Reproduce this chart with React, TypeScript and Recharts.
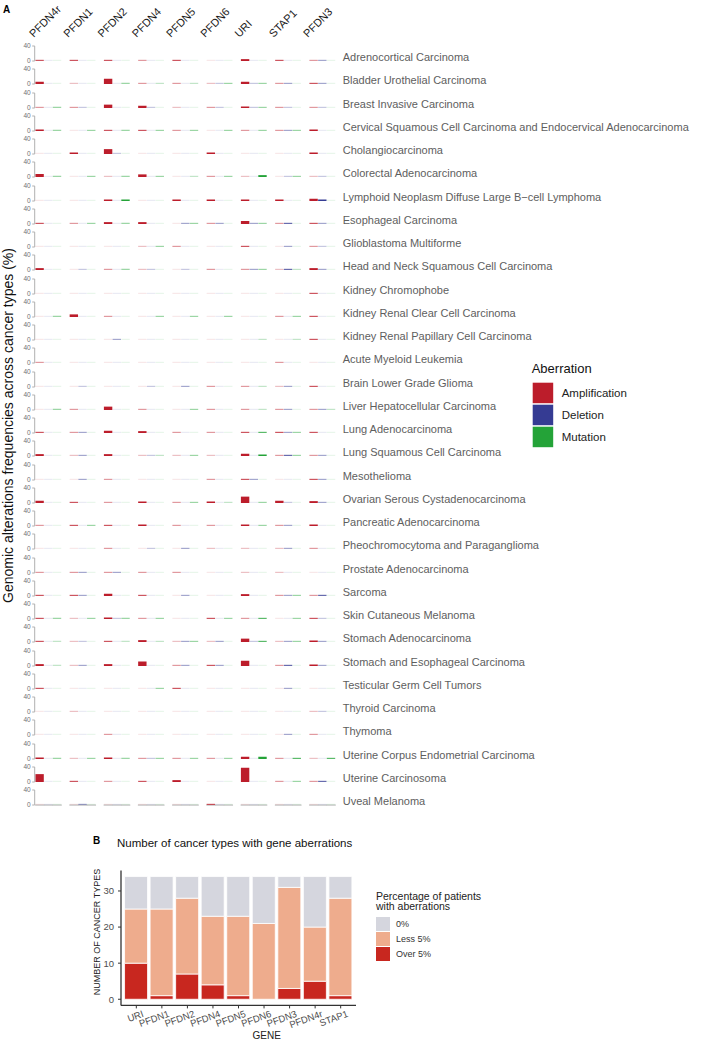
import { Bar, BarChart, Cell, Legend, XAxis, YAxis } from "recharts";

const GENES_A = ["PFDN4r", "PFDN1", "PFDN2", "PFDN4", "PFDN5", "PFDN6", "URI", "STAP1", "PFDN3"];

const CANCERS = [
  "Adrenocortical Carcinoma",
  "Bladder Urothelial Carcinoma",
  "Breast Invasive Carcinoma",
  "Cervical Squamous Cell Carcinoma and Endocervical Adenocarcinoma",
  "Cholangiocarcinoma",
  "Colorectal Adenocarcinoma",
  "Lymphoid Neoplasm Diffuse Large B−cell Lymphoma",
  "Esophageal Carcinoma",
  "Glioblastoma Multiforme",
  "Head and Neck Squamous Cell Carcinoma",
  "Kidney Chromophobe",
  "Kidney Renal Clear Cell Carcinoma",
  "Kidney Renal Papillary Cell Carcinoma",
  "Acute Myeloid Leukemia",
  "Brain Lower Grade Glioma",
  "Liver Hepatocellular Carcinoma",
  "Lung Adenocarcinoma",
  "Lung Squamous Cell Carcinoma",
  "Mesothelioma",
  "Ovarian Serous Cystadenocarcinoma",
  "Pancreatic Adenocarcinoma",
  "Pheochromocytoma and Paraganglioma",
  "Prostate Adenocarcinoma",
  "Sarcoma",
  "Skin Cutaneous Melanoma",
  "Stomach Adenocarcinoma",
  "Stomach and Esophageal Carcinoma",
  "Testicular Germ Cell Tumors",
  "Thyroid Carcinoma",
  "Thymoma",
  "Uterine Corpus Endometrial Carcinoma",
  "Uterine Carcinosoma",
  "Uveal Melanoma",
];

// % of patients, one row per cancer type, columns follow GENES_A
const AMP = [
  [3, 3, 2.5, 2, 2.5, 0, 5, 2.5, 2],
  [6, 1, 14, 2, 2, 1, 6, 2, 3],
  [2, 1.5, 9, 6, 1, 2, 4, 2, 2],
  [4, 0, 3, 2.5, 1.5, 0, 2, 2, 4],
  [0, 4, 13, 0, 0, 4, 0, 0, 4],
  [8, 0, 1, 7, 0, 1.5, 1, 0, 1],
  [0, 0, 4, 0, 4, 4, 4, 4, 6],
  [3, 2, 5, 5, 0, 2, 8, 2, 3],
  [0, 0, 0, 1, 2, 0, 3, 0, 2],
  [5, 0, 1.5, 1, 0, 1.5, 1.5, 1, 5],
  [0, 0, 0, 0, 0, 0, 0, 0, 3],
  [0, 7, 2, 0, 0, 0, 0, 2, 3],
  [0, 0, 0, 0, 0, 0, 0, 0, 3],
  [1.5, 0, 0, 0, 0, 0, 0, 1.5, 0],
  [0, 0, 0, 0, 0, 1.5, 1.5, 1, 2.5],
  [0, 2, 9, 2, 0, 2, 2, 2, 2],
  [3, 1.5, 6, 5, 2, 2, 3, 2.5, 3],
  [5, 1, 5, 1, 1, 1, 6, 2, 2],
  [0, 0, 2, 0, 0, 2, 3, 0, 3],
  [6, 3, 2, 4, 2, 4, 17, 6, 5],
  [1.5, 3, 3, 4, 1.5, 1.5, 4, 1.5, 4],
  [0, 0, 1.5, 0, 0, 1, 1, 1, 2],
  [1.5, 1.5, 1.5, 1.5, 2, 0, 1, 1, 0],
  [2.5, 3, 6, 2.5, 0, 0, 5, 2, 2],
  [3, 1, 4, 2, 0, 3, 2, 0, 3],
  [3, 1, 3, 5, 1, 1, 9, 1, 4],
  [5, 1, 5, 12, 2, 3, 14, 2, 4],
  [3, 0, 0, 0, 3, 0, 0, 0, 0],
  [0, 1, 0, 0, 0, 0, 0, 0, 1],
  [0, 0, 2, 0, 0, 0, 0, 0, 1.5],
  [4, 1, 4, 2, 2, 1.5, 6, 2, 1],
  [21, 3, 2, 3, 5, 0, 38, 2, 2],
  [0, 0, 0, 0, 0, 3, 0, 0, 0],
];

const DEL = [
  [0, 0, 0, 0, 0, 0, 0, 0, 2],
  [0, 0, 0, 0, 0, 1, 1, 2, 2],
  [0, 1, 0, 1, 0, 1, 1, 1, 1],
  [0, 0, 0, 0, 0, 0, 0, 2, 0],
  [0, 0, 1, 0, 0, 0, 0, 0, 0],
  [0, 0, 0, 0, 0, 0, 0, 1, 1],
  [0, 0, 0, 0, 0, 0, 0, 0, 4],
  [0, 0, 0, 0, 2, 2, 2, 3, 2],
  [0, 0, 0, 0, 0, 0, 0, 1.5, 1],
  [0, 1, 0, 1, 1, 0, 1.5, 3, 1.5],
  [0, 0, 0, 0, 0, 0, 0, 0, 0],
  [0, 0, 0, 0, 0, 0, 0, 0, 0],
  [0, 0, 1.5, 0, 0, 0, 0, 0, 0],
  [0, 0, 0, 0, 0, 0, 0, 0, 0],
  [0, 1, 0, 1, 1.5, 0, 0, 1.5, 0],
  [0, 0, 0, 0, 0, 0, 0, 2, 2],
  [0, 1.5, 0, 0, 0, 0, 0, 1.5, 0],
  [0, 1.5, 0, 1, 0, 0, 0, 2.5, 1.5],
  [0, 2, 0, 0, 0, 0, 2, 0, 2],
  [0, 0, 0, 0, 0, 0, 0, 1, 2],
  [0, 0, 0, 0, 0, 0, 0, 1.5, 0],
  [0, 0, 0, 1, 1.5, 0, 0, 1.5, 0],
  [0, 1.5, 2, 0, 0, 0, 0, 0, 0],
  [0, 1.5, 0, 0, 1.5, 0, 0, 1.5, 3],
  [0, 0, 1, 0, 0, 0, 0, 0, 1],
  [0, 1, 0, 0, 1.5, 2, 1, 2, 2],
  [0, 1.5, 0, 0, 2, 1.5, 0, 2.5, 2],
  [0, 0, 0, 0, 0, 0, 0, 2, 0],
  [0, 0, 0, 0, 0, 0, 0, 0, 1],
  [0, 0, 0, 0, 0, 0, 0, 1.5, 0],
  [0, 0, 0, 1, 0, 0, 0, 0, 0],
  [0, 0, 0, 0, 0, 0, 0, 0, 2.5],
  [0, 2, 0, 0, 0, 0, 0, 0, 0],
];

const MUT = [
  [0, 0, 0, 0, 0, 0, 0, 0, 0],
  [0, 0, 1.5, 1, 1, 1.5, 1.5, 0, 0],
  [1.5, 0, 0, 0, 0, 0, 1.5, 0, 0],
  [1.5, 2, 2, 2, 2, 2, 2, 1.5, 0],
  [0, 0, 0, 0, 0, 0, 0, 0, 0],
  [1.5, 1.5, 1.5, 1.5, 1, 1.5, 5, 1.5, 0],
  [0, 0, 4, 0, 0, 0, 0, 0, 0],
  [0, 2, 2, 0, 2, 0, 2, 0, 0],
  [0, 0, 0, 1.5, 0, 0, 0, 0, 0],
  [0, 0, 1.5, 0, 0, 0, 1.5, 1, 0],
  [0, 0, 0, 0, 0, 0, 0, 0, 0],
  [1.5, 0, 0, 1.5, 1.5, 1.5, 0, 1.5, 0],
  [0, 0, 0, 0, 0, 0, 1, 1, 0],
  [0, 0, 0, 0, 0, 0, 0, 0, 0],
  [0, 0, 0, 0, 0, 0, 1, 0, 0],
  [2, 0, 0, 0, 2, 0, 1, 0, 1],
  [0, 0, 0, 0, 0, 0, 3, 1.5, 0],
  [0, 0, 0, 1, 1.5, 0, 4, 2, 0],
  [0, 0, 0, 0, 0, 0, 0, 0, 0],
  [0, 0, 0, 0, 2, 1, 2, 0, 0],
  [0, 2, 0, 0, 0, 0, 1.5, 0, 0],
  [0, 0, 0, 0, 0, 0, 0, 0, 0],
  [0, 0, 0, 0, 0, 0, 0, 0, 0],
  [0, 0, 0, 0, 0, 0, 0, 1.5, 0],
  [1.5, 1.5, 1.5, 1.5, 0, 1.5, 3, 2, 0],
  [1, 0, 1, 1, 1.5, 0, 3, 1.5, 0],
  [1, 0, 0, 0, 0, 0, 0, 0, 0],
  [0, 0, 0, 2, 0, 0, 0, 0, 0],
  [0, 0, 0, 0, 0, 0, 0, 0, 0],
  [0, 0, 0, 0, 0, 0, 0, 0, 0],
  [2, 2, 1.5, 2, 1.5, 1.5, 6, 3, 3],
  [0, 0, 0, 0, 0, 0, 0, 2, 0],
  [0, 0, 0, 0, 0, 0, 0, 0, 0],
];

// panel B: number of cancer types per gene
const GENES_B = ["URI", "PFDN1", "PFDN2", "PFDN4", "PFDN5", "PFDN6", "PFDN3", "PFDN4r", "STAP1"];
const OVER5 = [10, 1, 7, 4, 1, 0, 3, 5, 1];
const LESS5 = [15, 24, 21, 19, 22, 21, 28, 15, 27];
const NONE = [9, 9, 6, 11, 11, 13, 3, 14, 6];

const ABERRATIONS = [
  { key: "amp", name: "Amplification", color: "#BC1D2B" },
  { key: "del", name: "Deletion", color: "#353B93" },
  { key: "mut", name: "Mutation", color: "#24A338" },
];

const PCT_CLASSES = [
  { key: "none", name: "0%", color: "#D5D6DE" },
  { key: "less", name: "Less 5%", color: "#EEAC8D" },
  { key: "over", name: "Over 5%", color: "#C8271F" },
];

const FONT = "'Liberation Sans', Arial, Helvetica, sans-serif";
const ZERO_Y = 61;
const ROW_STEP = 23.25;
const COL0 = 35.7;
const COL_STEP = 34.25;

const alphaOf = (v: number) =>
  v >= 4 ? 1 : v >= 2.5 ? 0.75 : v >= 1.5 ? 0.45 : v >= 0.8 ? 0.28 : 0.1;

function axisSegment(props: any) {
  const { x, y, width, height } = props;
  return <rect x={x - 0.3} y={y + height - 0.6} width={width + 0.9} height={1.4} fill="#c9c9c9" />;
}

function CancerRow({ idx }: { idx: number }) {
  const data = GENES_A.map((gene, j) => ({
    gene,
    amp: AMP[idx][j],
    del: DEL[idx][j],
    mut: MUT[idx][j],
  }));
  const last = idx === CANCERS.length - 1;
  const y0 = ZERO_Y + ROW_STEP * idx;
  return (
    <div style={{ position: "absolute", left: 0, top: y0 - 19 }}>
      <BarChart
        width={340}
        height={23}
        data={data}
        margin={{ top: 4, right: 0, bottom: 4, left: 0 }}
        barSize={8.4}
        barGap={0.3}
      >
        <XAxis dataKey="gene" hide padding={{ left: -3.3, right: 0.35 }} />
        <YAxis
          domain={[0, 40]}
          ticks={[0, 40]}
          interval={0}
          width={34.7}
          tickSize={2.5}
          tickMargin={1.5}
          tick={{ fontSize: 6.5, fill: "#707070" }}
          axisLine={{ stroke: "#b0b0b0" }}
          tickLine={{ stroke: "#b0b0b0" }}
        />
        {ABERRATIONS.map((s) => (
          <Bar
            key={s.key}
            dataKey={s.key}
            fill={s.color}
            minPointSize={1.2}
            isAnimationActive={false}
            background={last ? axisSegment : undefined}
          >
            {data.map((d: any, j) => (
              <Cell key={j} fillOpacity={alphaOf(d[s.key])} />
            ))}
          </Bar>
        ))}
      </BarChart>
    </div>
  );
}

function PctLegend() {
  return (
    <div style={{ fontFamily: FONT, color: "#222", textAlign: "left" }}>
      <div style={{ fontSize: 10.5, lineHeight: "10px" }}>Percentage of patients</div>
      <div style={{ fontSize: 10.5, lineHeight: "10px", marginBottom: 5 }}>with aberrations</div>
      {PCT_CLASSES.map((c) => (
        <div key={c.key} style={{ display: "flex", alignItems: "center", height: 15 }}>
          <div style={{ width: 14, height: 14, background: c.color, marginRight: 6 }} />
          <span style={{ fontSize: 9, color: "#333" }}>{c.name}</span>
        </div>
      ))}
    </div>
  );
}

function GeneTick(props: any) {
  const { x, y, payload } = props;
  const ax = x + 8;
  const ay = y + 6;
  return (
    <text
      x={ax}
      y={ay}
      transform={`rotate(-20 ${ax} ${ay})`}
      textAnchor="end"
      fontSize={9.5}
      fill="#4d4d4d"
    >
      {payload.value}
    </text>
  );
}

function PanelB() {
  const data = GENES_B.map((gene, i) => ({
    gene,
    over: OVER5[i],
    less: LESS5[i],
    none: NONE[i],
  }));
  return (
    <div style={{ position: "absolute", left: 0, top: 830 }}>
      <BarChart
        width={704}
        height={211}
        data={data}
        margin={{ top: 40.4, right: 348, bottom: 0, left: 0 }}
        barSize={23}
      >
        <XAxis
          dataKey="gene"
          height={35.6}
          interval={0}
          padding={{ left: 2.55, right: 2.55 }}
          tickSize={3}
          tickMargin={2}
          tick={<GeneTick />}
          axisLine={{ stroke: "#333", strokeWidth: 1.3 }}
          tickLine={{ stroke: "#333" }}
        />
        <YAxis
          domain={[-1.7, 35.7]}
          ticks={[0, 10, 20, 30]}
          allowDataOverflow
          width={121}
          tickSize={3}
          tickMargin={4}
          tick={{ fontSize: 9.5, fill: "#4d4d4d" }}
          axisLine={{ stroke: "#333", strokeWidth: 1.3 }}
          tickLine={{ stroke: "#333" }}
        />
        <Legend
          content={<PctLegend />}
          layout="horizontal"
          verticalAlign="middle"
          align="center"
          wrapperStyle={{ left: 376, top: 61, width: 150, height: 80 }}
        />
        {["over", "less", "none"].map((k) => {
          const c = PCT_CLASSES.find((p) => p.key === k)!;
          return (
            <Bar
              key={k}
              dataKey={k}
              name={c.name}
              stackId="n"
              fill={c.color}
              stroke="#fff"
              strokeWidth={0.8}
              isAnimationActive={false}
            />
          );
        })}
      </BarChart>
    </div>
  );
}

export default function App() {
  return (
    <div
      style={{
        position: "absolute",
        left: 0,
        top: 0,
        width: 704,
        height: 1041,
        background: "#fff",
        fontFamily: FONT,
        overflow: "hidden",
      }}
    >
      {CANCERS.map((_, i) => (
        <CancerRow key={i} idx={i} />
      ))}
      <PanelB />
      <svg
        width={704}
        height={1041}
        style={{ position: "absolute", left: 0, top: 0, pointerEvents: "none" }}
      >
        <text x={3} y={13} fontSize={10} fontWeight="bold" fill="#000">
          A
        </text>
        {GENES_A.map((g, j) => {
          const x = COL0 + COL_STEP * j - 2;
          const y = 38;
          return (
            <text key={g} x={x} y={y} transform={`rotate(-45 ${x} ${y})`} fontSize={11} fill="#1a1a1a">
              {g}
            </text>
          );
        })}
        {CANCERS.map((c, i) => (
          <text key={c} x={342.7} y={ZERO_Y + ROW_STEP * i} fontSize={11} fill="#5e5e5e">
            {c}
          </text>
        ))}
        <text
          x={7.5}
          y={425.5}
          transform="rotate(-90 7.5 425.5)"
          textAnchor="middle"
          dominantBaseline="central"
          fontSize={14}
          fill="#111"
        >
          Genomic alterations frequencies across cancer types (%)
        </text>
        <text x={531.7} y={373} fontSize={13} fill="#111">
          Aberration
        </text>
        {ABERRATIONS.map((a, i) => (
          <g key={a.key}>
            <rect x={532.7} y={382.7 + 22 * i} width={20.5} height={20.5} fill={a.color} />
            <text x={561.7} y={393 + 22 * i} dominantBaseline="central" fontSize={11.5} fill="#222">
              {a.name}
            </text>
          </g>
        ))}
        <text x={93} y={844} fontSize={10} fontWeight="bold" fill="#000">
          B
        </text>
        <text x={117} y={843} dominantBaseline="central" fontSize={11.5} fill="#111">
          Number of cancer types with gene aberrations
        </text>
        <text
          x={97}
          y={932}
          transform="rotate(-90 97 932)"
          textAnchor="middle"
          dominantBaseline="central"
          fontSize={9}
          fill="#222"
        >
          NUMBER OF CANCER TYPES
        </text>
        <text x={266.7} y={1035} textAnchor="middle" dominantBaseline="central" fontSize={10} fill="#222">
          GENE
        </text>
      </svg>
    </div>
  );
}
